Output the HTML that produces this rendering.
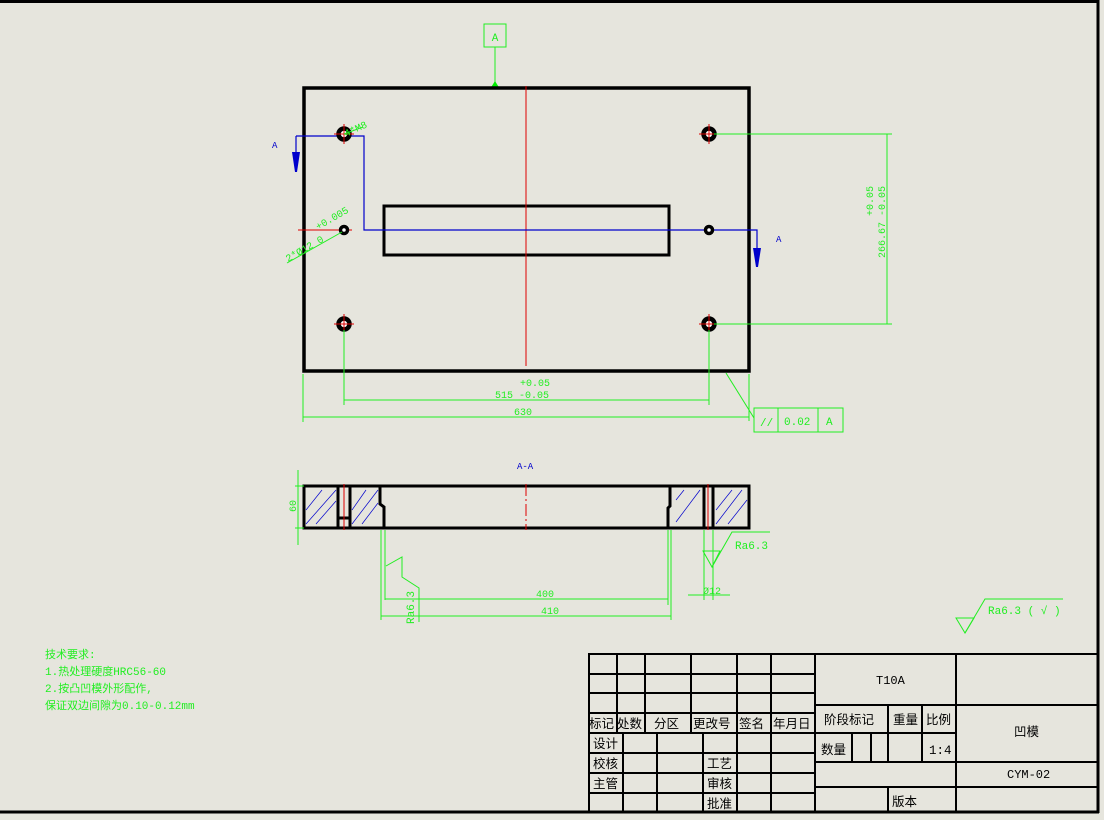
<!DOCTYPE html>
<html><head><meta charset="utf-8"><style>
html,body{margin:0;padding:0;background:#e6e5dd;}
svg{display:block;}
text{font-family:"Liberation Mono","Noto Sans CJK SC",monospace;}
</style></head><body>
<svg width="1104" height="820" viewBox="0 0 1104 820" xmlns="http://www.w3.org/2000/svg">
<rect width="1104" height="820" fill="#e6e5dd"/>
<line x1="0" y1="1.5" x2="1099" y2="1.5" stroke="#000" stroke-width="3"/>
<line x1="1098" y1="0" x2="1098" y2="813" stroke="#000" stroke-width="3"/>
<line x1="0" y1="812" x2="1099" y2="812" stroke="#000" stroke-width="3"/>

<rect x="484" y="24" width="22" height="23" fill="none" stroke="#2e2" stroke-width="1"/>
<text x="495" y="41" font-size="11" fill="#2e2" text-anchor="middle">A</text>
<line x1="495" y1="47" x2="495" y2="84" stroke="#2e2"/>
<polygon points="490,89 500,89 495,81" fill="#0e0"/>

<rect x="304" y="88" width="445" height="283" fill="none" stroke="#000" stroke-width="3.5"/>
<rect x="384" y="206" width="285" height="49" fill="none" stroke="#000" stroke-width="3"/>
<line x1="526" y1="86" x2="526" y2="366" stroke="#d00" stroke-width="1"/>
<line x1="298" y1="230" x2="352" y2="230" stroke="#d00" stroke-width="1"/>

<polyline points="296,136 364,136 364,230 757,230 757,248" fill="none" stroke="#00c" stroke-width="1.2"/>
<line x1="296" y1="136" x2="296" y2="152" stroke="#00c" stroke-width="1.2"/>
<polygon points="292,152 300,152 297,172 295,172" fill="#00c"/>
<polygon points="753,248 761,248 758,267 756,267" fill="#00c"/>
<text x="272" y="148" font-size="9" fill="#00c">A</text>
<text x="776" y="242" font-size="9" fill="#00c">A</text>

<g stroke="#000" stroke-width="4.5" fill="#fff">
<circle cx="344" cy="134" r="5.5"/><circle cx="709" cy="134" r="5.5"/>
<circle cx="344" cy="324" r="5.5"/><circle cx="709" cy="324" r="5.5"/>
</g>
<g stroke="#000" stroke-width="3.5" fill="#fff">
<circle cx="344" cy="230" r="3.5"/><circle cx="709" cy="230" r="3.5"/>
</g>
<g stroke="#d00" stroke-width="1">
<line x1="334" y1="134" x2="354" y2="134"/><line x1="344" y1="124" x2="344" y2="144"/>
<line x1="699" y1="134" x2="719" y2="134"/><line x1="709" y1="124" x2="709" y2="144"/>
<line x1="334" y1="324" x2="354" y2="324"/><line x1="344" y1="314" x2="344" y2="334"/>
<line x1="699" y1="324" x2="719" y2="324"/><line x1="709" y1="314" x2="709" y2="334"/>
</g>
<line x1="344" y1="134" x2="363" y2="127" stroke="#2e2"/>
<text x="0" y="0" font-size="10" fill="#2e2" transform="translate(346,137) rotate(-25)">4*M8</text>
<line x1="287" y1="263" x2="342" y2="232" stroke="#2e2"/>
<text x="0" y="0" font-size="10" fill="#2e2" transform="translate(288,262) rotate(-30)">2*Ø12  0</text>
<text x="0" y="0" font-size="10" fill="#2e2" transform="translate(318,230) rotate(-30)">+0.005</text>

<g stroke="#2e2" stroke-width="1">
<line x1="714" y1="134" x2="892" y2="134"/><line x1="714" y1="324" x2="892" y2="324"/>
<line x1="887" y1="134" x2="887" y2="324"/>
<line x1="303" y1="374" x2="303" y2="422"/><line x1="344" y1="330" x2="344" y2="405"/>
<line x1="709" y1="330" x2="709" y2="405"/><line x1="749" y1="374" x2="749" y2="421"/>
<line x1="344" y1="400" x2="709" y2="400"/><line x1="303" y1="417" x2="749" y2="417"/>
<line x1="726" y1="373" x2="754" y2="418"/>
<rect x="754" y="408" width="89" height="24" fill="none"/>
<line x1="778" y1="408" x2="778" y2="432"/><line x1="818" y1="408" x2="818" y2="432"/>
</g>
<text x="0" y="0" font-size="10" fill="#2e2" transform="translate(885,258) rotate(-90)">266.67 -0.05</text>
<text x="0" y="0" font-size="10" fill="#2e2" transform="translate(873,216) rotate(-90)">+0.05</text>
<text x="520" y="386" font-size="10" fill="#2e2">+0.05</text>
<text x="495" y="398" font-size="10" fill="#2e2">515 -0.05</text>
<text x="514" y="415" font-size="10" fill="#2e2">630</text>
<text x="760" y="426" font-size="11" fill="#2e2">//</text>
<text x="784" y="425" font-size="11" fill="#2e2">0.02</text>
<text x="826" y="425" font-size="11" fill="#2e2">A</text>

<text x="517" y="469" font-size="9" fill="#00c">A-A</text>
<g stroke="#00c" stroke-width="0.7">
<line x1="306" y1="524" x2="336" y2="490"/><line x1="316" y1="524" x2="336" y2="501"/><line x1="306" y1="510" x2="322" y2="490"/>
<line x1="352" y1="524" x2="378" y2="490"/><line x1="362" y1="524" x2="378" y2="503"/><line x1="352" y1="510" x2="366" y2="490"/>
<line x1="676" y1="500" x2="684" y2="490"/><line x1="676" y1="522" x2="700" y2="490"/>
<line x1="716" y1="524" x2="742" y2="490"/><line x1="728" y1="524" x2="747" y2="500"/><line x1="716" y1="510" x2="732" y2="490"/>
</g>
<g stroke="#000" stroke-width="3" fill="none">
<rect x="304" y="486" width="445" height="42"/>
<line x1="338" y1="486" x2="338" y2="528"/><line x1="350" y1="486" x2="350" y2="528"/>
<rect x="338" y="518" width="12" height="10"/>
<polyline points="380,486 380,504 384,507 384,528"/>
<polyline points="670,486 670,506 668,508 668,528"/>
<line x1="704" y1="486" x2="704" y2="528"/><line x1="713" y1="486" x2="713" y2="528"/>
</g>
<line x1="526" y1="484" x2="526" y2="530" stroke="#d00" stroke-width="1" stroke-dasharray="12,3,2,3"/>
<line x1="344" y1="484" x2="344" y2="530" stroke="#d00" stroke-width="1"/>
<line x1="708" y1="484" x2="708" y2="530" stroke="#d00" stroke-width="1"/>
<g stroke="#2e2" stroke-width="1" fill="none">
<line x1="298" y1="470" x2="298" y2="545"/><line x1="295" y1="486" x2="304" y2="486"/><line x1="295" y1="528" x2="304" y2="528"/>
<line x1="381" y1="530" x2="381" y2="620"/><line x1="385" y1="530" x2="385" y2="600"/>
<line x1="668" y1="530" x2="668" y2="605"/><line x1="671" y1="530" x2="671" y2="620"/>
<line x1="385" y1="599" x2="668" y2="599"/><line x1="381" y1="616" x2="671" y2="616"/>
<polyline points="386,566 402,557 402,577 419,588 419,622"/>
<line x1="704" y1="530" x2="704" y2="600"/><line x1="713" y1="530" x2="713" y2="600"/>
<line x1="688" y1="595" x2="730" y2="595"/>
<polygon points="703,551 720,551 712,567"/><polyline points="712,567 732,532 770,532"/>
<polygon points="956,618 974,618 965,633"/><polyline points="965,633 985,599 1063,599"/>
</g>
<text x="0" y="0" font-size="10" fill="#2e2" transform="translate(296,512) rotate(-90)">60</text>
<text x="536" y="597" font-size="10" fill="#2e2">400</text>
<text x="541" y="614" font-size="10" fill="#2e2">410</text>
<text x="0" y="0" font-size="11" fill="#2e2" transform="translate(414,624) rotate(-90)">Ra6.3</text>
<text x="735" y="549" font-size="11" fill="#2e2">Ra6.3</text>
<text x="703" y="594" font-size="10" fill="#2e2">Ø12</text>
<text x="988" y="614" font-size="11" fill="#2e2">Ra6.3 ( √ )</text>

<g font-size="11" fill="#2e2">
<text x="45" y="658">技术要求:</text>
<text x="45" y="675">1.热处理硬度HRC56-60</text>
<text x="45" y="692">2.按凸凹模外形配作,</text>
<text x="45" y="709">保证双边间隙为0.10-0.12mm</text>
</g>

<g stroke="#000" stroke-width="2" fill="none">
<rect x="589" y="654" width="509" height="158"/>
<line x1="589" y1="674" x2="815" y2="674"/><line x1="589" y1="693" x2="815" y2="693"/>
<line x1="589" y1="713" x2="815" y2="713"/><line x1="589" y1="733" x2="815" y2="733"/>
<line x1="589" y1="753" x2="815" y2="753"/><line x1="589" y1="773" x2="815" y2="773"/>
<line x1="589" y1="793" x2="815" y2="793"/>
<line x1="617" y1="654" x2="617" y2="733"/><line x1="645" y1="654" x2="645" y2="733"/>
<line x1="691" y1="654" x2="691" y2="733"/><line x1="737" y1="654" x2="737" y2="812"/>
<line x1="771" y1="654" x2="771" y2="812"/><line x1="815" y1="654" x2="815" y2="812"/>
<line x1="623" y1="733" x2="623" y2="812"/><line x1="657" y1="733" x2="657" y2="812"/>
<line x1="703" y1="733" x2="703" y2="812"/>
<line x1="956" y1="654" x2="956" y2="812"/>
<line x1="815" y1="705" x2="1098" y2="705"/>
<line x1="815" y1="733" x2="956" y2="733"/>
<line x1="815" y1="762" x2="1098" y2="762"/>
<line x1="815" y1="787" x2="1098" y2="787"/>
<line x1="888" y1="705" x2="888" y2="762"/><line x1="922" y1="705" x2="922" y2="762"/>
<line x1="852" y1="733" x2="852" y2="762"/><line x1="871" y1="733" x2="871" y2="762"/>
<line x1="888" y1="787" x2="888" y2="812"/>
</g>
<g font-size="12.5" fill="#000">
<text x="589" y="728">标记</text><text x="617" y="728">处数</text><text x="654" y="728">分区</text>
<text x="693" y="728">更改号</text><text x="739" y="728">签名</text><text x="773" y="728">年月日</text>
<text x="593" y="748">设计</text><text x="593" y="768">校核</text><text x="593" y="788">主管</text>
<text x="707" y="768">工艺</text><text x="707" y="788">审核</text><text x="707" y="808">批准</text>
<text x="824" y="724">阶段标记</text><text x="893" y="724">重量</text><text x="926" y="724">比例</text>
<text x="821" y="754">数量</text><text x="929" y="754">1:4</text>
<text x="1014" y="736">凹模</text>
<text x="892" y="806">版本</text>
<text x="876" y="684" font-size="12">T10A</text>
<text x="1007" y="778" font-size="12">CYM-02</text>
</g>
</svg>
</body></html>
